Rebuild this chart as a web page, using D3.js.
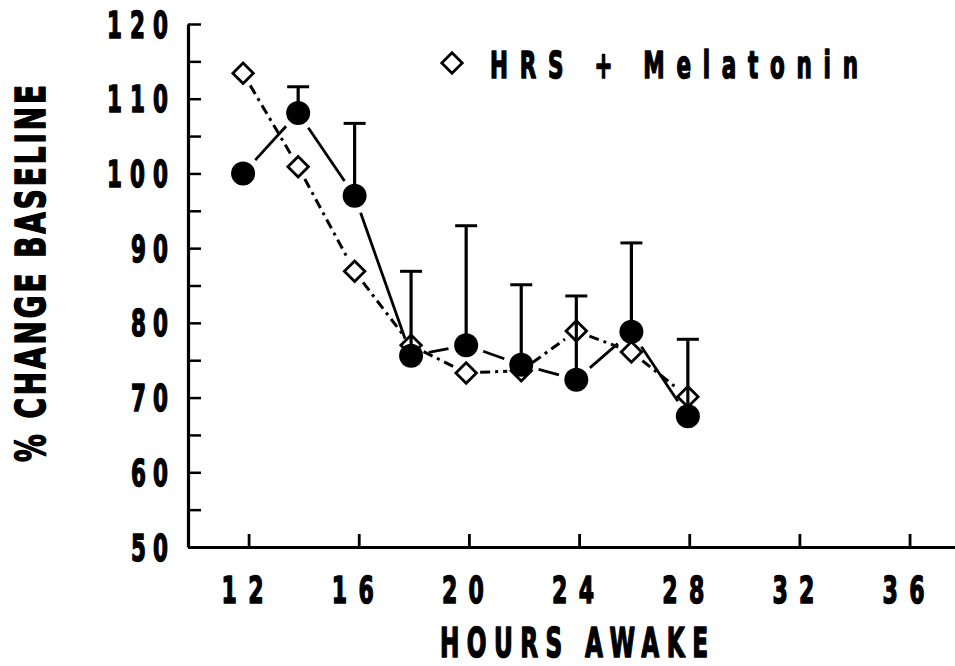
<!DOCTYPE html>
<html>
<head>
<meta charset="utf-8">
<script src="https://cdn.jsdelivr.net/npm/d3@7/dist/d3.min.js"></script>
<style>
  html, body { margin: 0; padding: 0; background: #fff; }
  svg { display: block; }
  text { font-family: "DejaVu Sans", "Liberation Sans", sans-serif; font-weight: bold; fill: #000;
         stroke: #000; stroke-width: 1.6; stroke-linejoin: round; }
</style>
</head>
<body>
<svg id="chart" width="955" height="666"></svg>
<script>
// ---- data ----
const hours      = [11.8, 13.8, 15.85, 17.9, 19.9, 21.9, 23.9, 25.9, 27.95];
const melatonin  = [113.4, 100.9, 86.9, 77.0, 73.3, 73.6, 78.9, 76.1, 70.1];   // open diamonds
const control    = [100.0, 108.1, 97.0, 75.6, 77.0, 74.4, 72.4, 78.8, 67.5];   // filled circles
const controlTop = [null, 111.6, 106.7, 86.9, 93.0, 85.1, 83.6, 90.7, 77.8];   // upper error bar
const xTickValues = [12, 16, 20, 24, 28, 32, 36];
const yTickValues = d3.range(50, 121, 5);
const yLabelValues = [50, 60, 70, 80, 90, 100, 110, 120];
const legendLabel = "HRS + Melatonin";
const xTitle = "HOURS AWAKE";
const yTitle = "% CHANGE BASELINE";

const svg = d3.select("#chart");
const x = d3.scaleLinear().domain([9.8, 37.65]).range([188, 955]);
const y = d3.scaleLinear().domain([50, 120]).range([547, 24]);

// condensed, widely spaced text helper
function ctext(g, str, opts) {
  const grp = g.append("g").attr("transform",
    `translate(${opts.x},${opts.y})` + (opts.rotate ? ` rotate(${opts.rotate})` : "") + ` scale(${opts.sx},1)`);
  grp.append("text")
    .attr("x", 0).attr("y", 0)
    .attr("text-anchor", opts.anchor || "start")
    .attr("font-size", opts.size)
    .attr("textLength", opts.width / opts.sx)
    .attr("lengthAdjust", "spacing")
    .text(str);
  return grp;
}

// ---- axes ----
const yAxis = d3.axisLeft(y).tickValues(yTickValues).tickFormat("").tickSizeInner(-13).tickSizeOuter(0);
const xAxis = d3.axisBottom(x).tickValues(xTickValues).tickFormat("").tickSizeInner(-13).tickSizeOuter(0);

const gy = svg.append("g").attr("transform", `translate(${x.range()[0]},0)`).call(yAxis);
const gx = svg.append("g").attr("transform", `translate(0,${y.range()[0]})`).call(xAxis);
gy.select(".domain").attr("stroke-width", 3.2);
gx.select(".domain").attr("stroke-width", 2.8);
gy.selectAll(".tick line").attr("stroke-width", 2.5);
gx.selectAll(".tick line").attr("stroke-width", 2.8);

// tick labels
yLabelValues.forEach(v => {
  const s = String(v);
  ctext(svg, s, { x: 168, y: y(v) + 13.5, sx: 0.58, size: 37, anchor: "end", width: 13 + (s.length - 1) * 24 });
});
xTickValues.forEach(v => {
  const s = String(v);
  ctext(svg, s, { x: x(v) - 6, y: 603, sx: 0.58, size: 38, anchor: "middle", width: 14 + (s.length - 1) * 28 });
});

// axis titles
ctext(svg, xTitle, { x: 574, y: 657, sx: 0.58, size: 40, anchor: "middle", width: 268 });
ctext(svg, yTitle, { x: 45, y: 273.5, rotate: -90, sx: 0.68, size: 41, anchor: "middle", width: 377 });

// ---- series ----
const pts = hours.map((h, i) => ({ h, m: melatonin[i], c: control[i], top: controlTop[i] }));

function gapSegments(arr, key, gap) {
  const segs = [];
  for (let i = 0; i < arr.length - 1; i++) {
    const x1 = x(arr[i].h), y1 = y(arr[i][key]), x2 = x(arr[i + 1].h), y2 = y(arr[i + 1][key]);
    const dx = x2 - x1, dy = y2 - y1, L = Math.hypot(dx, dy);
    if (L <= 2 * gap) continue;
    const ux = dx / L, uy = dy / L;
    segs.push([x1 + ux * gap, y1 + uy * gap, x2 - ux * gap, y2 - uy * gap]);
  }
  return segs;
}

// diamond series line (dash-dot)
svg.append("g").selectAll("line").data(gapSegments(pts, "m", 14)).join("line")
  .attr("x1", d => d[0]).attr("y1", d => d[1]).attr("x2", d => d[2]).attr("y2", d => d[3])
  .attr("stroke", "#000").attr("stroke-width", 3).attr("stroke-dasharray", "10,5,3,5");

// circle series line (solid, gaps at markers)
svg.append("g").selectAll("line").data(gapSegments(pts, "c", 18)).join("line")
  .attr("x1", d => d[0]).attr("y1", d => d[1]).attr("x2", d => d[2]).attr("y2", d => d[3])
  .attr("stroke", "#000").attr("stroke-width", 2.8);

const diamond = d3.symbol().type(d3.symbolSquare).size(210);

// diamonds
svg.append("g").selectAll("path").data(pts).join("path")
  .attr("d", diamond)
  .attr("transform", d => `translate(${x(d.h)},${y(d.m)}) rotate(45)`)
  .attr("fill", "#fff").attr("stroke", "#000").attr("stroke-width", 2.8);

// circles
svg.append("g").selectAll("circle").data(pts).join("circle")
  .attr("cx", d => x(d.h)).attr("cy", d => y(d.c)).attr("r", 12)
  .attr("fill", "#000");

// error bars
const eb = svg.append("g").selectAll("g").data(pts.filter(d => d.top != null)).join("g");
eb.append("line")
  .attr("x1", d => x(d.h)).attr("x2", d => x(d.h))
  .attr("y1", d => y(d.c)).attr("y2", d => y(d.top))
  .attr("stroke", "#000").attr("stroke-width", 3.2);
eb.append("line")
  .attr("x1", d => x(d.h) - 11).attr("x2", d => x(d.h) + 11)
  .attr("y1", d => y(d.top)).attr("y2", d => y(d.top))
  .attr("stroke", "#000").attr("stroke-width", 3);

// ---- legend ----
const lg = svg.append("g");
lg.append("path").attr("d", diamond)
  .attr("transform", `translate(452,63) rotate(45)`)
  .attr("fill", "#fff").attr("stroke", "#000").attr("stroke-width", 2.8);
ctext(lg, legendLabel, { x: 490, y: 78, sx: 0.58, size: 37, anchor: "start", width: 368 });
</script>
</body>
</html>
